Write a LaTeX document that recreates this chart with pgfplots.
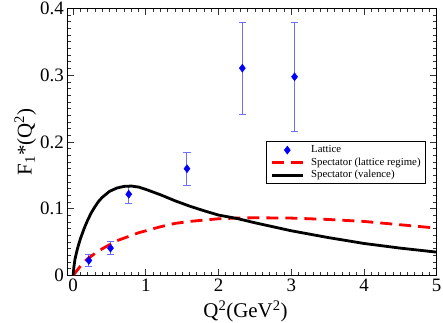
\documentclass[border=0pt]{standalone}
\usepackage{fontspec}
\setmainfont{Liberation Serif}
\newfontfamily\tickfont{Liberation Serif}
\usepackage{pgfplots}
\pgfplotsset{compat=1.18}
\definecolor{errblue}{RGB}{110,110,255}

\begin{document}
\begin{tikzpicture}
\begin{axis}[
  scale only axis, width=369.4bp, height=267bp,
  xmin=-0.08, xmax=5, ymin=0, ymax=0.4,
  xtick={0,1,2,3,4,5}, ytick={0,0.1,0.2,0.3,0.4},
  xticklabels={0,1,2,3,4,5},
  yticklabels={0,0.1,0.2,0.3,0.4},
  minor x tick num=9, minor y tick num=9,
  tick align=inside, major tick length=7bp, minor tick length=4bp,
  tick style={black!80, line width=0.8bp},
  axis line style={line width=1.2bp},
  tick label style={font=\tickfont\fontsize{19}{19}\selectfont},
  label style={font=\fontsize{21}{21}\selectfont},
  xlabel={Q\textsuperscript{2}(GeV\textsuperscript{2})},
  ylabel={F\textsubscript{1}*(Q\textsuperscript{2})},
  xlabel style={at={(axis description cs:0.4824,-0.1573)}, anchor=base},
  ylabel style={at={(axis description cs:-0.0964,0.5)}, anchor=base},
  legend cell align=left,
  legend image code/.code={\draw[mark repeat=2,mark phase=2,#1] plot coordinates {(0bp,0bp) (15.5bp,0bp) (31bp,0bp)};},
  legend style={at={(axis description cs:0.538,0.502)}, anchor=north west,
    draw=black, line width=0.8bp, font=\fontsize{10.8}{12.5}\selectfont,
    inner xsep=4bp, inner ysep=2bp, row sep=0pt,
    nodes={inner sep=1bp, text height=8bp, text depth=2.5bp},
    /tikz/every odd column/.append style={column sep=6bp}},
]
\addplot[only marks, mark=diamond*, mark size=4bp, blue,
  mark options={fill=blue, draw=blue, line width=0.5bp},
  error bars/.cd, y dir=both, y explicit,
  error bar style={errblue, line width=1bp},
  error mark options={errblue, line width=1bp, mark size=3.6bp, rotate=90}]
  coordinates {
  (0.216,0.0226) += (0,0.0095) -= (0,0.0095)
  (0.514,0.041) += (0,0.0095) -= (0,0.0095)
  (0.765,0.1218) += (0,0.0135) -= (0,0.0135)
  (1.566,0.160) += (0,0.024) -= (0,0.025)
  (2.327,0.3106) += (0,0.069) -= (0,0.070)
  (3.045,0.2977) += (0,0.082) -= (0,0.082)
  };
\addlegendentry{Lattice}
\addplot[red, line width=2.8bp, dash pattern=on 12bp off 7bp] coordinates {
  (0,0) (0.05,0.007) (0.1,0.014) (0.15,0.020) (0.2,0.025) (0.3,0.033)
  (0.4,0.040) (0.5,0.046) (0.6,0.052) (0.7,0.056) (0.8,0.060) (0.9,0.064)
  (1.0,0.067) (1.2,0.073) (1.4,0.078) (1.6,0.081) (1.8,0.083) (2.0,0.085)
  (2.25,0.086) (2.5,0.0865) (3.0,0.086) (3.5,0.084) (4.0,0.081)
  (4.5,0.076) (5.0,0.071)
  };
\addlegendentry{Spectator (lattice regime)}
\addplot[black, line width=2.8bp] coordinates {
  (0,0) (0.01,0.012) (0.025,0.024) (0.05,0.036) (0.075,0.046) (0.1,0.055)
  (0.15,0.070) (0.2,0.083) (0.25,0.094) (0.3,0.103) (0.35,0.111)
  (0.4,0.117) (0.5,0.126) (0.6,0.131) (0.7,0.1335) (0.8,0.134)
  (0.9,0.1325) (1.0,0.129) (1.1,0.125) (1.2,0.121) (1.4,0.112)
  (1.6,0.104) (1.8,0.097) (2.0,0.0905) (2.25,0.0855) (2.5,0.079)
  (2.75,0.073) (3.0,0.067) (3.5,0.057) (4.0,0.048) (4.5,0.041) (5.0,0.035)
  };
\addlegendentry{Spectator (valence)}
\coordinate (ll) at (rel axis cs:0,0);
\end{axis}
\pgfresetboundingbox
\path[use as bounding box] (ll) ++(-67.3bp,-47.5bp) rectangle ++(443bp,323bp);
\end{tikzpicture}
\end{document}
